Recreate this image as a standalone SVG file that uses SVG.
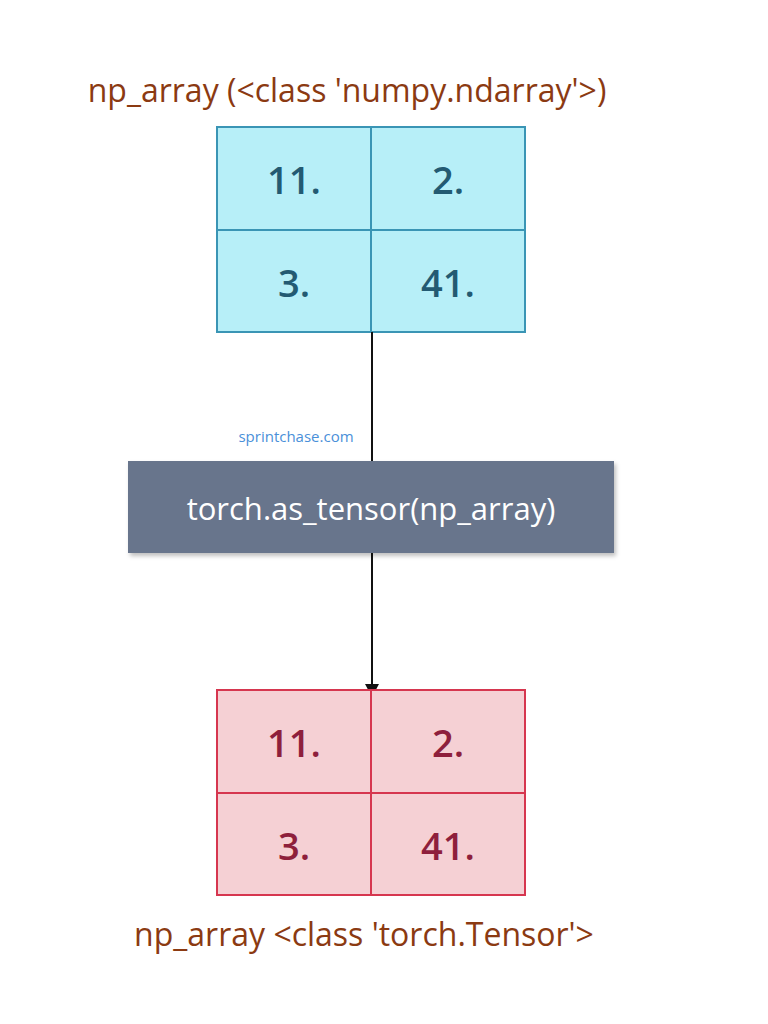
<svg xmlns="http://www.w3.org/2000/svg" width="768" height="1024" viewBox="0 0 768 1024">
<style>
.t{font-family:"Open Sans","Noto Sans",sans-serif;font-size:32px;fill:#8b3a12;text-anchor:middle}
.c{font-family:"Open Sans","Noto Sans",sans-serif;font-size:38px;font-weight:600;text-anchor:middle}
.top rect,.top line{stroke:#3a95b5;stroke-width:2}
.bot rect,.bot line{stroke:#d6364f;stroke-width:2}
</style>
<defs>
<marker id="a" markerWidth="12" markerHeight="12" refX="6" refY="11" orient="auto" markerUnits="userSpaceOnUse"><path d="M0,0 L12,0 L6,12 Z" fill="#111" transform="rotate(-90 6 6)"/></marker>
<filter id="s" x="-5%" y="-10%" width="110%" height="130%"><feDropShadow dx="2" dy="3" stdDeviation="2" flood-opacity="0.25"/></filter>
</defs>
<rect width="768" height="1024" fill="#fff"/>
<text class="t" x="347" y="102">np_array (&lt;class 'numpy.ndarray'&gt;)</text>
<g id="top" class="top">
<rect x="217" y="127" width="308" height="205" fill="#b7eff8"/>
<line x1="371" y1="127" x2="371" y2="332"/><line x1="217" y1="230" x2="525" y2="230"/>
<g class="c" fill="#235a72"><text x="294" y="194">11.</text><text x="448" y="194">2.</text><text x="294" y="297">3.</text><text x="448" y="297">41.</text></g>
</g>
<g id="connectors" stroke="#111" stroke-width="2" fill="none">
<line x1="372" y1="332" x2="372" y2="461"/>
<path d="M372,553 L372,686"/>
<path d="M365,684 L379,684 L372,697 Z" fill="#111" stroke="none"/>
</g>
<text x="296" y="442" font-family="Open Sans,sans-serif" font-size="15" fill="#4a90d9" text-anchor="middle">sprintchase.com</text>
<g id="op">
<rect x="128" y="461" width="486" height="92" fill="#67758c" filter="url(#s)"/>
<text x="371" y="520" font-family="Open Sans,sans-serif" font-size="31" fill="#fff" text-anchor="middle">torch.as_tensor(np_array)</text>
</g>
<g id="bottom" class="bot">
<rect x="217" y="690" width="308" height="205" fill="#f5d0d4"/>
<line x1="371" y1="690" x2="371" y2="895"/><line x1="217" y1="793" x2="525" y2="793"/>
<g class="c" fill="#8e1f3c"><text x="294" y="757">11.</text><text x="448" y="757">2.</text><text x="294" y="860">3.</text><text x="448" y="860">41.</text></g>
</g>
<text class="t" x="364" y="946">np_array &lt;class 'torch.Tensor'&gt;</text>
</svg>
